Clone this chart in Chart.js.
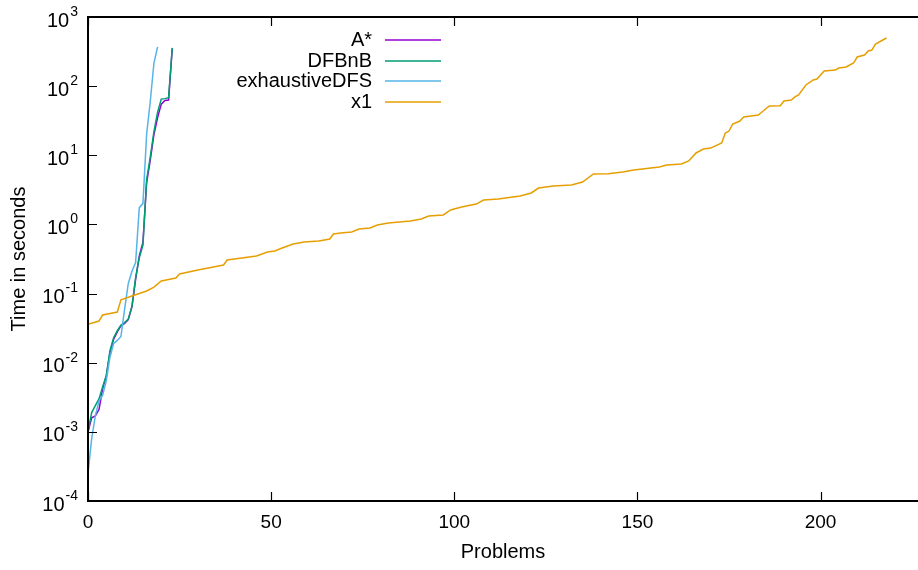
<!DOCTYPE html>
<html>
<head>
<meta charset="utf-8">
<script src="https://cdn.jsdelivr.net/npm/chart.js@4.4.0/dist/chart.umd.min.js"></script>
<style>
  html, body { margin: 0; padding: 0; background: #fff; }
  #wrap { width: 918px; height: 570px; }
</style>
</head>
<body>
<div id="wrap"><canvas id="plot"></canvas></div>
<script>
// values
var astarProblems = [0,1,2,3,4,5,6,7,8,9,10,11,12,13,14,15,16,17,18,19,20,21,22,23];
var astarTimes = [0.001,0.0016,0.0017,0.0021,0.0042,0.0065,0.014,0.022,0.028,0.034,0.037,0.042,0.065,0.16,0.35,0.55,4.0,8.5,20,35,55,62,63,350];

var dfbnbProblems = [0,1,2,3,4,5,6,7,8,9,10,11,12,13,14,15,16,17,18,19,20,21,22,23];
var dfbnbTimes = [0.001,0.0019,0.0024,0.003,0.0045,0.0065,0.015,0.023,0.029,0.035,0.038,0.043,0.065,0.17,0.33,0.5,4.4,9.5,22,42,65,66,68,357];

var exhProblems = [0,1,2,3,4,5,6,7,8,9,10,11,12,13,14,15,16,17,18,19];
var exhTimes = [0.00025,0.0008,0.0017,0.0028,0.0034,0.0055,0.012,0.019,0.021,0.024,0.06,0.14,0.21,0.28,1.75,2.0,20,60,216,370];

var x1Problems = [0,3,4,8,9,12,16,18,20,24,25,30,37,38,46,49,51,53,56,59,63,66,67,69,72,74,77,79,82,88,91,93,97,99,102,106,108,112,118,121,123,127,132,135,138,142,146,149,156,158,162,164,166,168,170,173,174,175,176,178,179,183,184,186,189,190,192,193,194,196,198,199,201,204,205,207,209,210,212,213,214,215,217,218];
var x1Times = [0.036,0.040,0.049,0.054,0.081,0.092,0.109,0.124,0.152,0.168,0.192,0.219,0.259,0.306,0.349,0.399,0.413,0.456,0.521,0.557,0.576,0.615,0.726,0.751,0.777,0.859,0.888,0.98,1.05,1.12,1.20,1.32,1.37,1.62,1.79,1.97,2.25,2.33,2.58,2.85,3.36,3.60,3.72,4.11,5.36,5.4,5.73,6.12,6.77,7.23,7.48,8.27,10.8,12.3,12.7,15.1,21.0,22.4,28.3,31.3,35.8,38.3,42.3,51.6,52,61,63,70,74.5,104,123,127,166,171,183,189,216,264,282,322,333,407,465,497];

var xTicks = [0, 50, 100, 150, 200];
var yExponents = [-4, -3, -2, -1, 0, 1, 2, 3];

var seriesNames = ["A*", "DFBnB", "exhaustiveDFS", "x1"];
var seriesColors = ["#9400D3", "#009E73", "#56B4E9", "#E69F00"];

function pairs(xs, ys) {
    let out = [];
    for (let i = 0; i < xs.length; i++) out.push({x: xs[i], y: ys[i]});
    return out;
}

var FONT = '"Liberation Sans", Arial, Helvetica, sans-serif';

var gnuplotLook = {
    id: 'gnuplotLook',
    afterDraw(chart) {
        const ctx = chart.ctx;
        const a = chart.chartArea;
        const xs = chart.scales.x, ys = chart.scales.y;
        ctx.save();
        ctx.strokeStyle = '#000';
        ctx.fillStyle = '#000';
        ctx.lineWidth = 2;
        // left, top, bottom border (right side runs off the picture)
        ctx.beginPath();
        ctx.moveTo(chart.width, a.top);
        ctx.lineTo(a.left, a.top);
        ctx.lineTo(a.left, a.bottom);
        ctx.lineTo(chart.width, a.bottom);
        ctx.stroke();

        ctx.lineWidth = 1.2;
        ctx.beginPath();
        yExponents.forEach(e => {
            const y = Math.round(ys.getPixelForValue(Math.pow(10, e))) + 0.5;
            ctx.moveTo(a.left, y); ctx.lineTo(a.left + 9, y);
        });
        xTicks.forEach(v => {
            const x = Math.round(xs.getPixelForValue(v)) + 0.5;
            ctx.moveTo(x, a.bottom); ctx.lineTo(x, a.bottom - 9);
            ctx.moveTo(x, a.top); ctx.lineTo(x, a.top + 9);
        });
        ctx.stroke();

        // y tick labels 10^n
        yExponents.forEach(e => {
            const y = ys.getPixelForValue(Math.pow(10, e));
            const sup = String(e);
            ctx.font = '14px ' + FONT;
            const ws = ctx.measureText(sup).width;
            ctx.textBaseline = 'middle';
            ctx.textAlign = 'left';
            ctx.fillText(sup, 78 - ws, y - 5);
            ctx.font = '20px ' + FONT;
            ctx.textAlign = 'right';
            ctx.fillText('10', 78 - ws - 1, y + 4);
        });

        // x tick labels
        ctx.font = '19px ' + FONT;
        ctx.textAlign = 'center';
        ctx.textBaseline = 'middle';
        xTicks.forEach(v => {
            ctx.fillText(String(v), xs.getPixelForValue(v), 523);
        });

        // axis titles
        ctx.font = '20px ' + FONT;
        ctx.fillText('Problems', (a.left + a.right) / 2, 552);
        ctx.save();
        ctx.translate(19, (a.top + a.bottom) / 2);
        ctx.rotate(-Math.PI / 2);
        ctx.fillText('Time in seconds', 0, 0);
        ctx.restore();

        // legend
        const rows = [40, 61, 81, 102];
        ctx.textAlign = 'right';
        for (let i = 0; i < seriesNames.length; i++) {
            ctx.fillStyle = '#000';
            ctx.fillText(seriesNames[i], 372, rows[i]);
            ctx.strokeStyle = seriesColors[i];
            ctx.lineWidth = 1.5;
            ctx.beginPath();
            ctx.moveTo(385, rows[i]); ctx.lineTo(441, rows[i]);
            ctx.stroke();
        }
        ctx.restore();
    }
};

var datasets = [
    {label: seriesNames[0], data: pairs(astarProblems, astarTimes), order: 3},
    {label: seriesNames[1], data: pairs(dfbnbProblems, dfbnbTimes), order: 2},
    {label: seriesNames[2], data: pairs(exhProblems, exhTimes), order: 1},
    {label: seriesNames[3], data: pairs(x1Problems, x1Times), order: 0}
].map((d, i) => Object.assign(d, {
    borderColor: seriesColors[i],
    borderWidth: 1.5,
    pointRadius: 0,
    tension: 0,
    fill: false
}));

new Chart(document.getElementById('plot'), {
    type: 'line',
    data: { datasets: datasets },
    options: {
        responsive: true,
        maintainAspectRatio: false,
        animation: false,
        events: [],
        layout: { padding: { top: 17, right: 0, left: 0, bottom: 0 } },
        plugins: { legend: { display: false }, tooltip: { enabled: false } },
        scales: {
            x: {
                type: 'linear',
                min: 0,
                max: 226.6,
                grid: { display: false },
                border: { display: false },
                ticks: { display: false },
                afterFit: s => { s.height = 69; }
            },
            y: {
                type: 'logarithmic',
                min: 1e-4,
                max: 1e3,
                grid: { display: false },
                border: { display: false },
                ticks: { display: false },
                afterFit: s => { s.width = 88; }
            }
        }
    },
    plugins: [gnuplotLook]
});
</script>
</body>
</html>
